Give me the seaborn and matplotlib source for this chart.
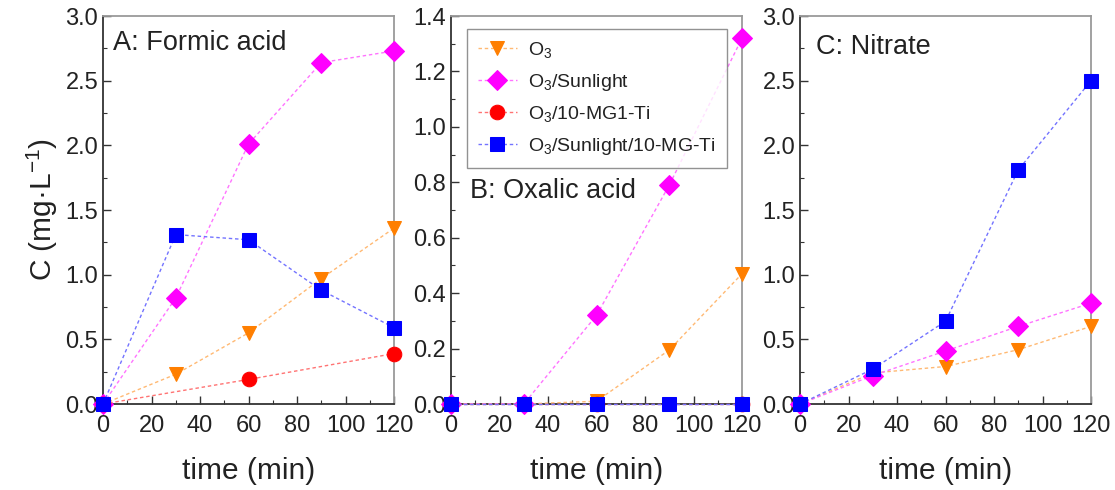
import numpy as np
import pandas as pd
import matplotlib
matplotlib.use("Agg")
import matplotlib.pyplot as plt
from matplotlib.ticker import MultipleLocator, FormatStrFormatter
import seaborn as sns

sns.set_style("ticks")
plt.rcParams['font.family'] = ['Liberation Sans', 'DejaVu Sans']
plt.rcParams['mathtext.fontset'] = 'custom'
plt.rcParams['mathtext.rm'] = 'Liberation Sans'
plt.rcParams['mathtext.it'] = 'Liberation Sans:italic'

# sampling times (min)
time = [0, 30, 60, 90, 120]

series_labels = ["O$_3$", "O$_3$/Sunlight", "O$_3$/10-MG1-Ti", "O$_3$/Sunlight/10-MG-Ti"]

# A: formic acid (mg/L)
formic_o3 = [0.0, 0.23, 0.55, 0.97, 1.36]
formic_sun = [0.0, 0.82, 2.01, 2.64, 2.73]
formic_mg = [0.0, np.nan, 0.19, np.nan, 0.39]
formic_sun_mg = [0.0, 1.31, 1.27, 0.88, 0.59]

# B: oxalic acid (mg/L)
oxalic_o3 = [0.0, 0.0, 0.01, 0.195, 0.47]
oxalic_sun = [0.0, 0.0, 0.32, 0.79, 1.32]
oxalic_mg = [0.0, np.nan, 0.0, np.nan, 0.0]
oxalic_sun_mg = [0.0, 0.0, 0.0, 0.0, 0.0]

# C: nitrate (mg/L)
nitrate_o3 = [0.0, 0.24, 0.29, 0.42, 0.60]
nitrate_sun = [0.0, 0.22, 0.41, 0.60, 0.78]
nitrate_mg = [np.nan, np.nan, np.nan, np.nan, np.nan]
nitrate_sun_mg = [0.0, 0.27, 0.64, 1.81, 2.50]

panels = [
    ("A: Formic acid", [formic_o3, formic_sun, formic_mg, formic_sun_mg], 3.0, 0.5, 0.25, (0.035, 0.93)),
    ("B: Oxalic acid", [oxalic_o3, oxalic_sun, oxalic_mg, oxalic_sun_mg], 1.4, 0.2, 0.1, (0.065, 0.55)),
    ("C: Nitrate", [nitrate_o3, nitrate_sun, nitrate_mg, nitrate_sun_mg], 3.0, 0.5, 0.25, (0.055, 0.92)),
]

colors = ["#FF7F00", "#FF00FF", "#FF0000", "#0000FF"]
markers = ["v", "D", "o", "s"]
msizes = [10, 10, 10.5, 10.5]


def lighten(color, amount):
    r, g, b, _ = matplotlib.colors.to_rgba(color)
    return (r + (1 - r) * amount, g + (1 - g) * amount, b + (1 - b) * amount)


fig = plt.figure(figsize=(11.15, 4.9), dpi=100)
lefts = [0.0924, 0.4045, 0.7175]
width, bottom, height = 0.261, 0.1755, 0.7918

axes = []
for i, (title, data, ymax, major, minor, tpos) in enumerate(panels):
    ax = fig.add_axes([lefts[i], bottom, width, height])
    axes.append(ax)
    for k, vals in enumerate(data):
        df = pd.DataFrame({"time": time, "C": vals}).dropna()
        if df.empty:
            continue
        sns.lineplot(data=df, x="time", y="C", ax=ax, color=lighten(colors[k], 0.45),
                     marker=markers[k], markersize=msizes[k],
                     markeredgecolor=colors[k], markerfacecolor=colors[k],
                     linestyle=(0, (2.5, 2)), linewidth=1.0,
                     label=series_labels[k], clip_on=False, legend=False, zorder=3 + k)

    ax.set_xlim(0, 120)
    ax.set_ylim(0, ymax)
    ax.xaxis.set_major_locator(MultipleLocator(20))
    ax.xaxis.set_minor_locator(MultipleLocator(10))
    ax.yaxis.set_major_locator(MultipleLocator(major))
    ax.yaxis.set_minor_locator(MultipleLocator(minor))
    ax.yaxis.set_major_formatter(FormatStrFormatter("%.1f"))
    ax.tick_params(which="both", direction="in", labelsize=17, colors="#333333",
                   labelcolor="#222222", top=False, right=False)
    ax.tick_params(which="major", length=6, width=1)
    ax.tick_params(which="minor", length=3, width=0.8)
    ax.tick_params(axis="x", pad=8)
    for side in ["left", "bottom"]:
        ax.spines[side].set_color("#333333")
        ax.spines[side].set_linewidth(1.3)
    for side in ["top", "right"]:
        ax.spines[side].set_color("#9a9a9a")
        ax.spines[side].set_linewidth(1.3)
    ax.set_xlabel("time (min)", fontsize=21.5, color="#222222", labelpad=14)
    ax.set_ylabel("")
    ax.text(tpos[0], tpos[1], title, transform=ax.transAxes, fontsize=19.5,
            color="#222222", va="center", ha="left")

axes[0].set_ylabel("C (mg·L$^{-1}$)", fontsize=21.5, color="#222222", labelpad=4)

# legend from the full set of series
handles, labels = axes[0].get_legend_handles_labels()
leg = axes[1].legend(handles, labels, loc="upper left", bbox_to_anchor=(0.055, 0.966),
                     borderaxespad=0, fontsize=14, frameon=True, fancybox=False,
                     handlelength=2.0, handletextpad=0.6, labelspacing=0.6,
                     borderpad=0.55)
leg.get_frame().set_edgecolor("#777777")
leg.get_frame().set_linewidth(1.0)
for t in leg.get_texts():
    t.set_color("#222222")

fig.savefig("out.png", dpi=100)
